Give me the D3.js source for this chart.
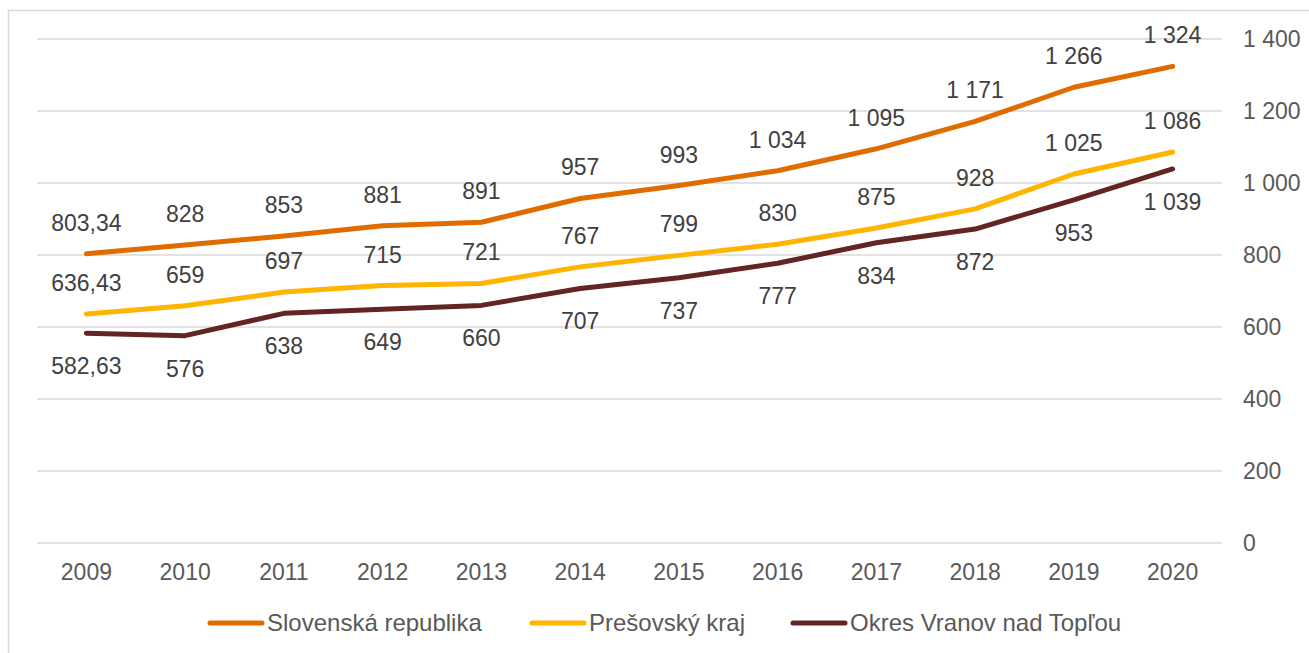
<!DOCTYPE html>
<html>
<head>
<meta charset="utf-8">
<script src="https://cdn.jsdelivr.net/npm/d3@7"></script>
<style>
  body { margin: 0; background: #fff; }
  svg { font-family: "Liberation Sans", Arial, sans-serif; }
</style>
</head>
<body>
<svg id="chart"></svg>
<script>
const years = ["2009", "2010", "2011", "2012", "2013", "2014", "2015", "2016", "2017", "2018", "2019", "2020"];
const slovensko = [803.34, 828, 853, 881, 891, 957, 993, 1034, 1095, 1171, 1266, 1324];
const presov = [636.43, 659, 697, 715, 721, 767, 799, 830, 875, 928, 1025, 1086];
const vranov = [582.63, 576, 638, 649, 660, 707, 737, 777, 834, 872, 953, 1039];
const yTicks = [0, 200, 400, 600, 800, 1000, 1200, 1400];
const seriesNames = ["Slovenská republika", "Prešovský kraj", "Okres Vranov nad Topľou"];

const width = 1309, height = 653;
const margin = {top: 39, right: 87, bottom: 110, left: 37};
const fontSize = 23;

const svg = d3.select("#chart").attr("width", width).attr("height", height);

// chart frame
svg.append("rect")
    .attr("x", 8.5).attr("y", 10.5)
    .attr("width", width + 20).attr("height", height + 20)
    .attr("fill", "none").attr("stroke", "#d9d9d9").attr("stroke-width", 1.5);

const locale = d3.formatLocale({decimal: ",", thousands: "\u00a0", grouping: [3], currency: ["", " €"]});
const fmt = locale.format(",");

const x = d3.scaleBand().domain(years).range([margin.left, width - margin.right]);
const y = d3.scaleLinear().domain([0, 1400]).range([height - margin.bottom, margin.top]);

// gridlines
svg.append("g").selectAll("line")
    .data(yTicks)
    .join("line")
    .attr("x1", margin.left).attr("x2", width - margin.right)
    .attr("y1", d => y(d)).attr("y2", d => y(d))
    .attr("stroke", "#d9d9d9").attr("stroke-width", 1.5);

// right axis labels
const yAxis = svg.append("g")
    .attr("transform", `translate(${width - margin.right + 21},0)`)
    .call(d3.axisRight(y).tickValues(yTicks).tickSize(0).tickPadding(0).tickFormat(fmt));
yAxis.select(".domain").remove();
yAxis.selectAll("text").attr("font-size", fontSize).attr("fill", "#595959").attr("font-family", "Liberation Sans, Arial, sans-serif");

// bottom axis labels
const xAxis = svg.append("g")
    .attr("transform", `translate(0,${height - margin.bottom})`)
    .call(d3.axisBottom(x).tickSize(0).tickPadding(21));
xAxis.select(".domain").remove();
xAxis.selectAll("text").attr("font-size", fontSize).attr("fill", "#595959").attr("font-family", "Liberation Sans, Arial, sans-serif");

const series = [
    {name: seriesNames[0], values: slovensko, color: "#e06c00", dy: -23},
    {name: seriesNames[1], values: presov, color: "#ffb400", dy: -23},
    {name: seriesNames[2], values: vranov, color: "#632523", dy: 41}
];

const line = d3.line()
    .x((d, i) => x(years[i]) + x.bandwidth() / 2)
    .y(d => y(d));

series.forEach(s => {
    svg.append("path")
        .datum(s.values)
        .attr("d", line)
        .attr("fill", "none")
        .attr("stroke", s.color)
        .attr("stroke-width", 5)
        .attr("stroke-linecap", "round")
        .attr("stroke-linejoin", "round");
});

series.forEach(s => {
    svg.append("g").selectAll("text")
        .data(s.values)
        .join("text")
        .attr("x", (d, i) => x(years[i]) + x.bandwidth() / 2)
        .attr("y", d => y(d) + s.dy)
        .attr("text-anchor", "middle")
        .attr("font-size", fontSize)
        .attr("fill", "#404040")
        .text(d => fmt(d));
});

// legend
const legendX = [208, 530, 791];
const legend = svg.append("g").attr("transform", "translate(0,623)");
series.forEach((s, i) => {
    const item = legend.append("g").attr("transform", `translate(${legendX[i]},0)`);
    item.append("line")
        .attr("x1", 2).attr("x2", 54)
        .attr("stroke", s.color).attr("stroke-width", 5).attr("stroke-linecap", "round");
    item.append("text")
        .attr("x", 59).attr("y", 8)
        .attr("font-size", 24).attr("fill", "#595959")
        .text(s.name);
});
</script>
</body>
</html>
